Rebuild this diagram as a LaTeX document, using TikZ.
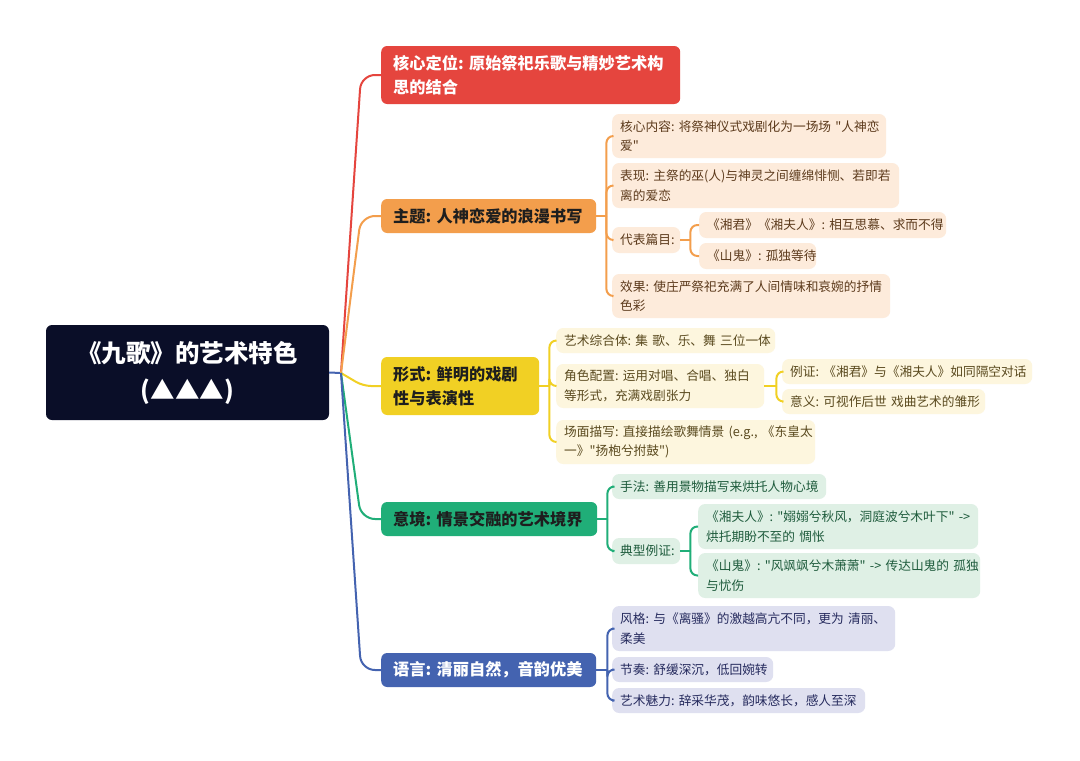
\documentclass[tikz,border=0pt]{standalone}
\usepackage{fontspec}
\setmainfont{Noto Sans CJK SC}
\newfontfamily\cjk{Noto Sans CJK SC}
\exhyphenpenalty=10000
\hyphenpenalty=10000
\definecolor{croot}{HTML}{0A0E28}
\definecolor{cred}{HTML}{E5453E}
\definecolor{corange}{HTML}{F39E4C}
\definecolor{cyellow}{HTML}{F1D024}
\definecolor{cgreen}{HTML}{20AE78}
\definecolor{cblue}{HTML}{4463B0}
\definecolor{forange}{HTML}{FDEBDB}
\definecolor{fyellow}{HTML}{FDF6DE}
\definecolor{fgreen}{HTML}{DFF0E5}
\definecolor{fblue}{HTML}{DFE0F0}
\definecolor{torange}{HTML}{5C3A1C}
\definecolor{tyellow}{HTML}{5A4A1F}
\definecolor{tgreen}{HTML}{1E5B3C}
\definecolor{tblue}{HTML}{262B5E}
\definecolor{tdark}{HTML}{1E1E1E}
\tikzset{
  mainnode/.style={rounded corners=6pt, anchor=west, inner xsep=12pt, inner ysep=0pt, align=left,
    font=\cjk\fontsize{16.2}{24}\selectfont\bfseries},
  subnode/.style={rounded corners=7pt, anchor=west, inner xsep=8pt, inner ysep=0pt, align=left,
    font=\cjk\fontsize{12.7}{19.5}\selectfont},
  osub/.style={subnode, fill=forange, text=torange},
  ysub/.style={subnode, fill=fyellow, text=tyellow},
  gsub/.style={subnode, fill=fgreen, text=tgreen},
  bsub/.style={subnode, fill=fblue, text=tblue},
  link/.style={line width=2pt, rounded corners=7pt},
}
\begin{document}
\begin{tikzpicture}[x=1pt,y=-1pt]
\fill[white] (0,0) rectangle (1080,761);
\useasboundingbox (0,0) rectangle (1080,761);

% root
\node[rounded corners=6pt, fill=croot, text=white, minimum width=283pt, minimum height=95pt,
  align=center, font=\cjk\fontsize{24.5}{37}\selectfont\bfseries, anchor=center] (root) at (187.5,372.5)
  {《九歌》的艺术特色\\(▲▲▲)};
\coordinate (hub) at (341,373);

% main branches
\node[mainnode, fill=cred, text=white, text width=275pt, minimum height=58pt] (b1) at (381,75)
  {核心定位:~原始祭祀乐歌与精妙艺术构\\思的结合};
\node[mainnode, fill=corange, text=tdark, text width=191pt, minimum height=34pt] (b2) at (381,216)
  {主题:~人神恋爱的浪漫书写};
\node[mainnode, fill=cyellow, text=tdark, text width=134pt, minimum height=58pt] (b3) at (381,386)
  {形式:~鲜明的戏剧\\性与表演性};
\node[mainnode, fill=cgreen, text=tdark, text width=192pt, minimum height=34pt] (b4) at (381,519)
  {意境:~情景交融的艺术境界};
\node[mainnode, fill=cblue, text=white, text width=191pt, minimum height=34pt] (b5) at (381,670)
  {语言:~清丽自然，音韵优美};

% orange subs
\node[osub, text width=258pt, minimum height=44pt] (c1) at (612,136)
  {核心内容:~将祭神仪式戏剧化为一场场~"人神恋\\爱"};
\node[osub, text width=271pt, minimum height=45pt] (c2) at (612,185.5)
  {表现:~主祭的巫(人)与神灵之间缠绵悱恻、若即若\\离的爱恋};
\node[osub, text width=52pt, minimum height=26pt] (c3) at (612,240)
  {代表篇目:};
\node[osub, text width=262pt, minimum height=44pt] (c4) at (612,296)
  {效果:~使庄严祭祀充满了人间情味和哀婉的抒情\\色彩};
\node[osub, text width=231pt, minimum height=26pt] (g1) at (699,225)
  {《湘君》《湘夫人》:~相互思慕、求而不得};
\node[osub, text width=101pt, minimum height=26pt] (g2) at (699,256)
  {《山鬼》:~孤独等待};

% yellow subs
\node[ysub, text width=203pt, minimum height=25pt] (y1) at (556,340.5)
  {艺术综合体:~集~歌、乐、舞~三位一体};
\node[ysub, text width=192pt, minimum height=44pt] (y2) at (556,386)
  {角色配置:~运用对唱、合唱、独白\\等形式，充满戏剧张力};
\node[ysub, text width=243pt, minimum height=44pt] (y3) at (556,442)
  {场面描写:~直接描绘歌舞情景~(e.g.,~《东皇太\\一》"扬枹兮拊鼓")};
\node[ysub, text width=234pt, minimum height=25pt] (yg1) at (782,371.5)
  {例证:~《湘君》与《湘夫人》如同隔空对话};
\node[ysub, text width=187pt, minimum height=25pt] (yg2) at (782,401.5)
  {意义:~可视作后世~戏曲艺术的雏形};

% green subs
\node[gsub, text width=198pt, minimum height=25pt] (e1) at (612,486.5)
  {手法:~善用景物描写来烘托人物心境};
\node[gsub, text width=52pt, minimum height=26pt] (e2) at (612,551)
  {典型例证:};
\node[gsub, text width=264pt, minimum height=45pt] (eg1) at (698,526.5)
  {《湘夫人》:~"嫋嫋兮秋风，洞庭波兮木叶下"~->\\烘托期盼不至的~惆怅};
\node[gsub, text width=266pt, minimum height=45pt] (eg2) at (698,575.5)
  {《山鬼》:~"风飒飒兮木萧萧"~->~传达山鬼的~孤独\\与忧伤};

% blue subs
\node[bsub, text width=267pt, minimum height=45pt] (u1) at (612,628.5)
  {风格:~与《离骚》的激越高亢不同，更为~清丽、\\柔美};
\node[bsub, text width=145pt, minimum height=25pt] (u2) at (612,669.5)
  {节奏:~舒缓深沉，低回婉转};
\node[bsub, text width=237pt, minimum height=25pt] (u3) at (612,700.5)
  {艺术魅力:~辞采华茂，韵味悠长，感人至深};

% root connectors
\draw[link, draw=cblue, rounded corners=0pt] (root.east) -- (hub);
\draw[link, draw=cred, rounded corners=14pt] (hub) -- ([xshift=-20pt]b1.west) -- (b1.west);
\draw[link, draw=corange, rounded corners=14pt] (hub) -- ([xshift=-20pt]b2.west) -- (b2.west);
\draw[link, draw=cyellow, rounded corners=8pt] (hub) -- ([xshift=-18pt]b3.west) -- (b3.west);
\draw[link, draw=cgreen, rounded corners=14pt] (hub) -- ([xshift=-20pt]b4.west) -- (b4.west);
\draw[link, draw=cblue, rounded corners=14pt] (hub) -- ([xshift=-20pt]b5.west) -- (b5.west);

% orange brackets
\coordinate (ob) at ([xshift=10pt]b2.east);
\draw[link, draw=corange] (b2.east) -- (ob);
\foreach \c in {c1,c2,c3,c4} \draw[link, draw=corange] (ob) |- (\c.west);
\coordinate (ob2) at ([xshift=10pt]c3.east);
\draw[link, draw=corange] (c3.east) -- (ob2);
\foreach \c in {g1,g2} \draw[link, draw=corange] (ob2) |- (\c.west);

% yellow brackets
\coordinate (yb) at ([xshift=10pt]b3.east);
\draw[link, draw=cyellow] (b3.east) -- (yb);
\foreach \c in {y1,y2,y3} \draw[link, draw=cyellow] (yb) |- (\c.west);
\coordinate (yb2) at ([xshift=12pt]y2.east);
\draw[link, draw=cyellow] (y2.east) -- (yb2);
\foreach \c in {yg1,yg2} \draw[link, draw=cyellow] (yb2) |- (\c.west);

% green brackets
\coordinate (gb) at ([xshift=10pt]b4.east);
\draw[link, draw=cgreen] (b4.east) -- (gb);
\foreach \c in {e1,e2} \draw[link, draw=cgreen] (gb) |- (\c.west);
\coordinate (gb2) at ([xshift=10pt]e2.east);
\draw[link, draw=cgreen] (e2.east) -- (gb2);
\foreach \c in {eg1,eg2} \draw[link, draw=cgreen] (gb2) |- (\c.west);

% blue brackets
\coordinate (bb) at ([xshift=11pt]b5.east);
\draw[link, draw=cblue] (b5.east) -- (bb);
\foreach \c in {u1,u2,u3} \draw[link, draw=cblue] (bb) |- (\c.west);
\end{tikzpicture}
\end{document}
